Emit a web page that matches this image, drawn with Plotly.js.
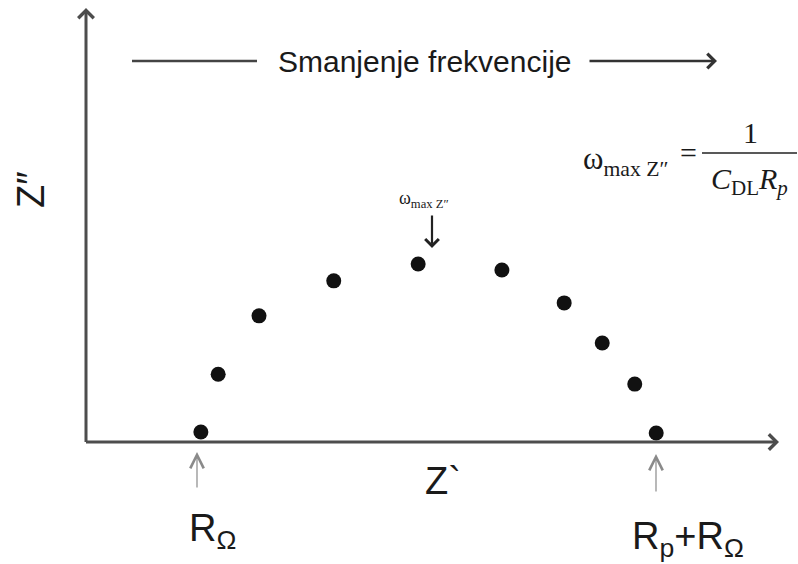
<!DOCTYPE html>
<html>
<head>
<meta charset="utf-8">
<script src="https://cdn.plot.ly/plotly-3.0.1.min.js"></script>
<style>html,body{margin:0;padding:0;background:#fff;}#chart{width:798px;height:564px;}</style>
</head>
<body>
<div id="chart"></div>
<script>
// Nyquist diagram data (arbitrary units): real part Z` and imaginary part Z″
const zReal = [16.6, 19.1, 25.0, 35.8, 48.0, 60.1, 69.1, 74.6, 79.3, 82.4];
const zImag = [2.3, 15.7, 29.2, 37.3, 41.2, 39.8, 32.2, 22.9, 13.4, 2.1];
const topText = "Smanjenje frekvencije";
const xLabel = "Z`";
const yLabel = "Z″";
const labelLeft = "R<sub>Ω</sub>";
const labelRight = "R<sub>p</sub>+R<sub>Ω</sub>";
const omegaLabel = "ω<sub>max Z″</sub>";
const fracNum = "1";
const fracDen = "<i>C</i><sub>DL</sub><i>R</i><sub><i>p</i></sub>";

// layout geometry in pixels (plot area from x=86..778, y=10..442)
const L = 86, R = 778, T = 10, B = 442;
const px = x => (x - L) / (R - L);
const py = y => (B - y) / (B - T);

const sans = "Liberation Sans, Arial, sans-serif";
const serif = "Liberation Serif, Times New Roman, serif";
const axisCol = "#4d4d4d";

const trace = {
  x: zReal, y: zImag, type: "scatter", mode: "markers",
  marker: {size: 15, color: "#111111"}, hoverinfo: "none", cliponaxis: false
};

function arrow(hx, hy, tx, ty, col, w, head, size) {
  return {xref: "paper", yref: "paper", x: px(hx), y: py(hy), axref: "pixel", ayref: "pixel",
    ax: tx - hx, ay: ty - hy, text: "", showarrow: true, arrowhead: head, arrowsize: size,
    arrowwidth: w, arrowcolor: col, standoff: 0, startstandoff: 0};
}
function txt(s, x, y, font, size, xanchor, angle) {
  return {xref: "paper", yref: "paper", x: px(x), y: py(y), text: s, showarrow: false,
    xanchor: xanchor || "center", yanchor: "middle", textangle: angle || 0,
    font: {family: font, size: size, color: "#1a1a1a"}};
}

const annotations = [
  arrow(86, 8, 86, 443.5, axisCol, 3, 4, 1),
  arrow(779, 442, 84.5, 442, axisCol, 3, 4, 1),
  arrow(717, 61, 588, 61, "#333333", 2.6, 4, 1.1),
  arrow(197, 452, 197, 489, "#8a8a8a", 1.2, 5, 2.2),
  arrow(656, 454, 656, 493, "#8a8a8a", 1.2, 5, 2.2),
  arrow(432, 248, 432, 214, "#222222", 2.2, 4, 1.2),
  txt(topText, 424, 61, sans, 30),
  txt(xLabel, 443, 481, sans, 38),
  txt(yLabel, 31, 190, sans, 38, "center", -90),
  txt(labelLeft, 187, 531, sans, 38, "left"),
  txt(labelRight, 630, 539, sans, 38, "left"),
  txt(omegaLabel, 424, 199, serif, 18),
  txt(omegaLabel, 581, 161, serif, 31, "left"),
  txt("=", 688, 152, serif, 30),
  txt(fracNum, 750, 132, serif, 30),
  txt(fracDen, 749, 181, serif, 30)
];

const shapes = [
  {type: "line", xref: "paper", yref: "paper", x0: px(132), x1: px(257), y0: py(61), y1: py(61),
   line: {color: "#444444", width: 2.6}},
  {type: "line", xref: "paper", yref: "paper", x0: px(702), x1: px(797), y0: py(153), y1: py(153),
   line: {color: "#222222", width: 1.3}}
];

const layout = {
  width: 798, height: 564,
  margin: {l: L, r: 798 - R, t: T, b: 564 - B, pad: 0},
  paper_bgcolor: "#ffffff", plot_bgcolor: "#ffffff",
  showlegend: false,
  font: {family: sans, size: 16, color: "#1a1a1a"},
  xaxis: {range: [0, 100], visible: false, fixedrange: true},
  yaxis: {range: [0, 100], visible: false, fixedrange: true},
  annotations: annotations,
  shapes: shapes
};

Plotly.newPlot("chart", [trace], layout, {staticPlot: true, displayModeBar: false});
</script>
</body>
</html>
